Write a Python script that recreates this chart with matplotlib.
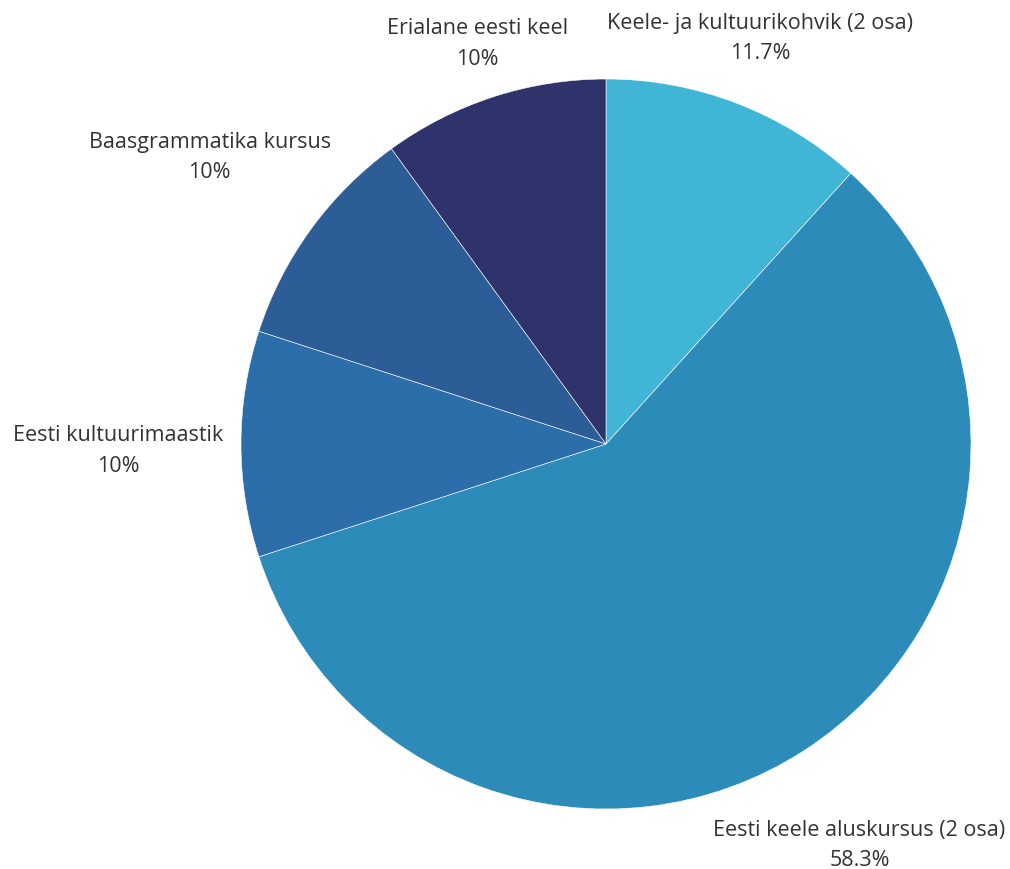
import numpy as np
import matplotlib
matplotlib.use("Agg")
import matplotlib.pyplot as plt

categories = ["Keele- ja kultuurikohvik (2 osa)", "Eesti keele aluskursus (2 osa)",
              "Eesti kultuurimaastik", "Baasgrammatika kursus", "Erialane eesti keel"]
values = [11.7, 58.3, 10, 10, 10]
pct_labels = ["11.7%", "58.3%", "10%", "10%", "10%"]
colors = ["#41b5d6", "#2d8bba", "#2b6ea9", "#2c5d96", "#2f336b"]
# label offsets from slice edge midpoint, in pixels (styling)
offsets = [(23, 66), (55, -94), (-123, -6), (-101, 73), (-16, 54)]

plt.rcParams['font.family'] = ['Open Sans', 'DejaVu Sans']

W, H = 1010, 870
fig = plt.figure(figsize=(W / 100, H / 100), dpi=100)
ax = fig.add_axes([0, 0, 1, 1])
R = 365.0
cx, cy = 606.0, 445.0

wedges, _ = ax.pie(values, colors=colors, startangle=90, counterclock=False,
                   radius=1.0, wedgeprops=dict(edgecolor='white', linewidth=0.4))
ax.set_xlim(-cx / R, (W - cx) / R)
ax.set_ylim(-(H - cy) / R, cy / R)
ax.set_aspect('equal')
ax.axis('off')

for w, cat, pl, off in zip(wedges, categories, pct_labels, offsets):
    ang = np.deg2rad((w.theta1 + w.theta2) / 2)
    xy = (np.cos(ang), np.sin(ang))
    ax.annotate(cat + "\n" + pl, xy=xy, xytext=off, textcoords='offset pixels',
                ha='center', va='center', fontsize=15.5, color='#333333',
                linespacing=1.6)

fig.savefig("out.png", dpi=100, facecolor='white')
